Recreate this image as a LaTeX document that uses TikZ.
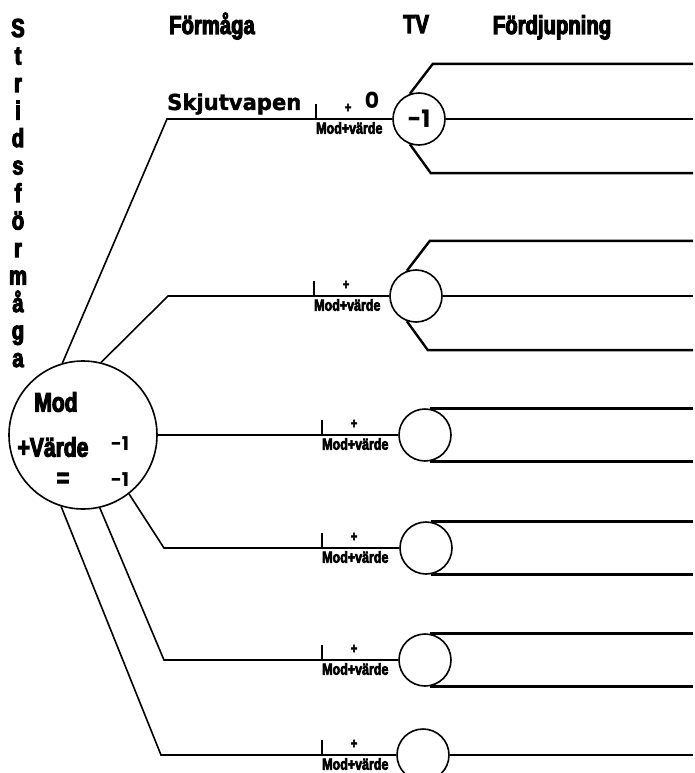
\documentclass[tikz,border=0pt]{standalone}
\usepackage{fontspec}
\usetikzlibrary{positioning}
\newfontfamily\heavy[FakeStretch=0.78, BoldFeatures={FakeBold=4}]{Liberation Sans}
\newfontfamily\hand[FakeStretch=0.96, BoldFeatures={FakeBold=1.5}]{DejaVu Sans}
\newfontfamily\handbold{Poppins}

\tikzset{
  ring/.style={circle, draw, line width=1.6pt, inner sep=0pt, minimum size=#1},
  arm/.style={line width=1.6pt},
  twig/.style={line width=2.4pt},
  head/.style={font=\heavy\bfseries\fontsize{26}{26}\selectfont, inner sep=0pt},
  big/.style={font=\heavy\bfseries\fontsize{27}{27}\selectfont, inner sep=0pt},
  tag/.style={font=\heavy\bfseries\fontsize{16}{16}\selectfont, inner sep=0pt},
  plus/.style={font=\heavy\bfseries\fontsize{14}{14}\selectfont, inner sep=0pt},
  num/.style={font=\handbold\bfseries\fontsize{#1}{#1}\selectfont, inner sep=0pt},
}

\begin{document}
\begin{tikzpicture}[x=1pt, y=-1pt]
  \useasboundingbox (0,0) rectangle (695,773);

  % column heads
  \node[head, anchor=base] (hform) at (212,34) {Förmåga};
  \node[head, anchor=base] (htv)   at (416,33) {TV};
  \node[head, anchor=base] (hdeep) at (552,34) {Fördjupning};

  % the word down the left side
  \foreach \ch [count=\i] in {S,t,r,i,d,s,f,ö,r,m,å,g,a}
    \node[head, anchor=base] (side\i) at (18, 37+27.5*\i-27.5) {\ch};

  % circles
  \node[ring=148pt] (mod) at (83,435) {};
  \node[ring=52pt] (tv1) at (419,119) {};
  \node[ring=52pt] (tv2) at (416,296) {};
  \node[ring=52pt] (tv3) at (425,435) {};
  \node[ring=52pt] (tv4) at (426,548) {};
  \node[ring=52pt] (tv5) at (425,660) {};
  \node[ring=52pt] (tv6) at (423,755) {};

  % text in the big circle
  \node[big] (mword) at (56,402) {Mod};
  \node[big] (vword) at (53,447) {+Värde};
  \node[big] (eq)    at (63,480) {=};
  \node[num=19] (mval) at (120,444) {-1};
  \node[num=19] (sum)  at (120,480) {-1};

  % knees where the arms turn
  \coordinate (k1) at (167,119);
  \coordinate (k2) at (168,296);
  \coordinate (k4) at (164,548);
  \coordinate (k5) at (164,660);
  \coordinate (k6) at (161,755);
  \coordinate (edge) at (693,0);

  \draw[arm] (mod.106) -- (k1) -- (tv1);
  \draw[arm] (mod.76) -- (k2) -- (tv2);
  \draw[arm] (mod.east) -- (tv3.west);
  \draw[arm] (mod.-52) -- (k4) -- (tv4);
  \draw[arm] (mod.-77) -- (k5) -- (tv5);
  \draw[arm] (mod.-107) -- (k6) -- (tv6);

  % ticks, plus signs and tags on every arm
  \foreach \t/\x/\y in {1/316/119, 2/314/296, 3/322/435, 4/322/548, 5/322/660, 6/322/755} {
    \draw[arm] (\x,\y) -- ++(0,-15);
    \node[plus] (pl\t) at (\x+32,\y-11) {+};
    \node[tag, anchor=west] (mv\t) at (\x,\y+9) {Mod+värde};
  }

  \node[anchor=base west, inner sep=0pt, font=\hand\bfseries\fontsize{22}{22}\selectfont] (gun) at (167,110) {Skjutvapen};
  \node[num=22] (zero) at (372,100) {0};
  \node[num=24] (tvval) at (tv1) {-1};

  % lines out to the right
  \foreach \t in {1,2} {
    \draw[twig] (tv\t.110) -- ++(23,-30) coordinate (u\t) -- (u\t -| edge);
    \draw[twig] (tv\t.east) -- (tv\t.east -| edge);
    \draw[twig] (tv\t.250) -- ++(21,29) coordinate (d\t) -- (d\t -| edge);
  }
  \foreach \t in {3,4,5} {
    \draw[twig] (tv\t.80) -- (tv\t.80 -| edge);
    \draw[twig] (tv\t.-80) -- (tv\t.-80 -| edge);
  }
  \draw[arm] (tv6.east) -- (tv6.east -| edge);
\end{tikzpicture}
\end{document}
